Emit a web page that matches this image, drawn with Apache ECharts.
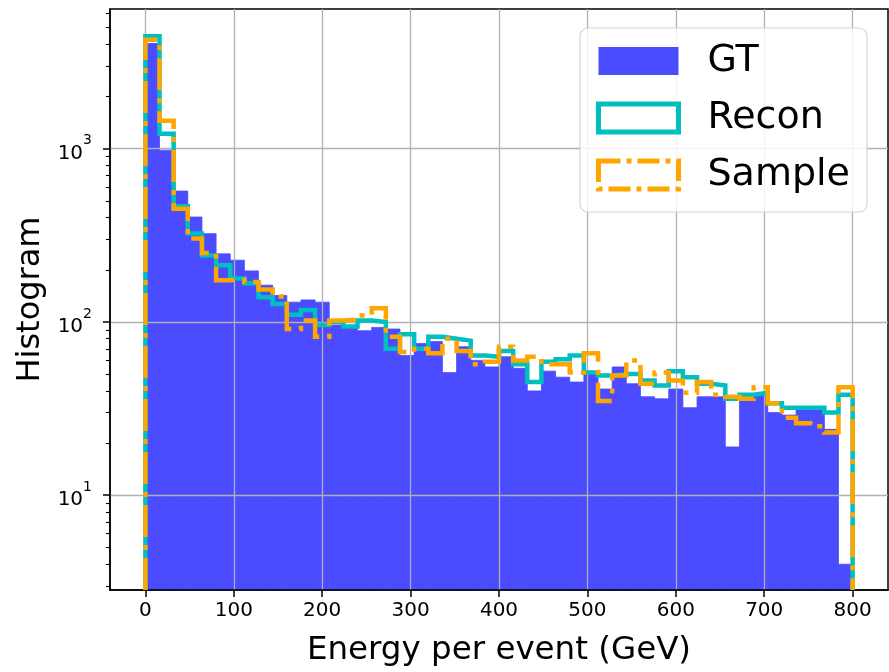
<!DOCTYPE html>
<html>
<head>
<meta charset="utf-8">
<script src="https://cdn.jsdelivr.net/npm/echarts@6/dist/echarts.min.js"></script>
<style>
  html, body { margin: 0; padding: 0; background: #fff; }
  #chart { width: 889px; height: 672px; }
</style>
</head>
<body>
<div id="chart"></div>
<script>
const binWidth = 16
const gtCounts = [
  4040, 980, 569, 403, 323, 247, 227, 197, 163, 142,
  130, 134, 130, 96, 95, 89, 93, 91, 64, 75,
  77, 51, 72, 60, 55, 63, 54, 40, 52, 48,
  45, 50, 41, 55, 44, 37, 36, 41, 32, 37,
  37, 19, 35, 38, 30, 29, 31, 31, 24, 4
]
const reconCounts = [
  4450, 1220, 465, 324, 242, 212, 178, 167, 139, 127,
  110, 117, 96, 100, 94, 102, 100, 70, 85, 70,
  82, 80, 78, 64, 63, 68, 57, 45, 59, 61,
  64, 51, 49, 50, 50, 46, 43, 52, 48, 44,
  43, 36, 38, 39, 34, 32, 32, 32, 30, 38
]
const sampleCounts = [
  4250, 1450, 450, 303, 250, 174, 175, 170, 154, 140,
  91, 102, 82, 102, 103, 109, 120, 82, 67, 70,
  66, 80, 68, 57, 59, 72, 60, 63, 57, 57,
  51, 66, 35, 49, 60, 44, 51, 46, 39, 45,
  38, 37, 36, 42, 34, 28, 26, 25, 23, 42
]
const xTicks = [0, 100, 200, 300, 400, 500, 600, 700, 800]
const yTicks = [10, 100, 1000]
const yMinorTicks = [3, 4, 5, 6, 7, 8, 9, 20, 30, 40, 50, 60, 70, 80, 90,
  200, 300, 400, 500, 600, 700, 800, 900, 2000, 3000, 4000, 5000, 6000]
const xRange = [-40, 840]
const yRange = [2.84, 6390]

const font = 'DejaVu Sans'
const gtColor = '#4b4bff'
const reconColor = '#00bfbf'
const sampleColor = '#ffa500'

// histogram outline: up from the floor, along each bin, back down at the end
const stepData = counts => {
  const pts = [[0, yRange[0]]]
  counts.forEach((v, i) => pts.push([i * binWidth, v]))
  pts.push([counts.length * binWidth, counts[counts.length - 1]])
  pts.push([counts.length * binWidth, yRange[0]])
  return pts
}

const chart = echarts.init(document.getElementById('chart'))

chart.setOption({
  animation: false,
  textStyle: { fontFamily: font },
  grid: {
    left: 110, right: 1, top: 9, bottom: 82,
    show: true, borderColor: '#000', borderWidth: 1.5, backgroundColor: 'transparent'
  },
  legend: {
    orient: 'vertical',
    left: 580,
    top: 28,
    padding: [14, 17, 18, 16],
    itemWidth: 80,
    itemHeight: 28,
    itemGap: 19,
    backgroundColor: 'rgba(255,255,255,0.85)',
    borderColor: '#d4d4d4',
    borderWidth: 1.2,
    borderRadius: 8,
    textStyle: { fontFamily: font, fontSize: 38, color: '#000', padding: [0, 0, 0, 24] },
    data: [
      { name: 'GT', icon: 'rect', itemStyle: { color: gtColor, borderWidth: 0 } },
      { name: 'Recon', icon: 'rect', itemStyle: { color: 'rgba(0,0,0,0)', borderColor: reconColor, borderWidth: 5 } },
      { name: 'Sample', icon: 'rect', itemStyle: { color: 'rgba(0,0,0,0)', borderColor: sampleColor, borderWidth: 5, borderType: [22, 6, 5, 6] } }
    ]
  },
  xAxis: {
    type: 'value',
    min: xRange[0],
    max: xRange[1],
    z: 3,
    name: 'Energy per event (GeV)',
    nameLocation: 'middle',
    nameGap: 44,
    nameTextStyle: { fontFamily: font, fontSize: 32.5, color: '#000' },
    axisLine: { show: true, onZero: false, lineStyle: { color: '#000', width: 1.5 } },
    axisTick: { show: true, customValues: xTicks, length: 7, lineStyle: { color: '#000', width: 1.5 } },
    axisLabel: { customValues: xTicks, fontFamily: font, fontSize: 20, color: '#000', margin: 11 },
    splitLine: { show: true, lineStyle: { color: '#b0b0b0', width: 1.3 } }
  },
  yAxis: [
    {
      type: 'log',
      min: yRange[0],
      max: yRange[1],
      z: 3,
      name: 'Histogram',
      nameLocation: 'middle',
      nameGap: 61,
      nameTextStyle: { fontFamily: font, fontSize: 32, color: '#000' },
      axisLine: { show: true, onZero: false, lineStyle: { color: '#000', width: 1.5 } },
      axisTick: { show: true, customValues: yTicks, length: 7, lineStyle: { color: '#000', width: 1.5 } },
      axisLabel: {
        customValues: yTicks,
        margin: 18,
        formatter: v => '{b|10}{s|' + Math.round(Math.log10(v)) + '}',
        rich: {
          b: { fontFamily: font, fontSize: 20, color: '#000', verticalAlign: 'bottom', lineHeight: 30 },
          s: { fontFamily: font, fontSize: 14, color: '#000', verticalAlign: 'top', lineHeight: 30 }
        }
      },
      splitLine: { show: true, lineStyle: { color: '#b0b0b0', width: 1.3 } }
    },
    {
      type: 'log',
      min: yRange[0],
      max: yRange[1],
      z: 3,
      position: 'left',
      axisLine: { show: false, onZero: false },
      axisTick: { show: true, customValues: yMinorTicks, length: 4, lineStyle: { color: '#000', width: 1.1 } },
      axisLabel: { show: false },
      splitLine: { show: false }
    }
  ],
  series: [
    {
      name: 'GT',
      type: 'custom',
      z: 2,
      data: gtCounts.map((v, i) => [i * binWidth, (i + 1) * binWidth, v]),
      encode: { x: [0, 1], y: 2 },
      renderItem: (params, api) => {
        const p0 = api.coord([api.value(0), api.value(2)])
        const p1 = api.coord([api.value(1), yRange[0]])
        return {
          type: 'rect',
          shape: { x: p0[0], y: p0[1], width: p1[0] - p0[0], height: p1[1] - p0[1] },
          style: { fill: gtColor, stroke: gtColor, lineWidth: 0.8 }
        }
      }
    },
    {
      name: 'Recon',
      type: 'line',
      z: 5,
      step: 'end',
      symbol: 'none',
      color: reconColor,
      lineStyle: { color: reconColor, width: 4.5, cap: 'butt', join: 'miter' },
      data: stepData(reconCounts)
    },
    {
      name: 'Sample',
      type: 'line',
      z: 6,
      step: 'end',
      symbol: 'none',
      color: sampleColor,
      lineStyle: { color: sampleColor, width: 4.5, type: [32, 8, 5, 8], cap: 'butt', join: 'miter' },
      data: stepData(sampleCounts)
    }
  ]
})

window.addEventListener('resize', () => chart.resize())
</script>
</body>
</html>
